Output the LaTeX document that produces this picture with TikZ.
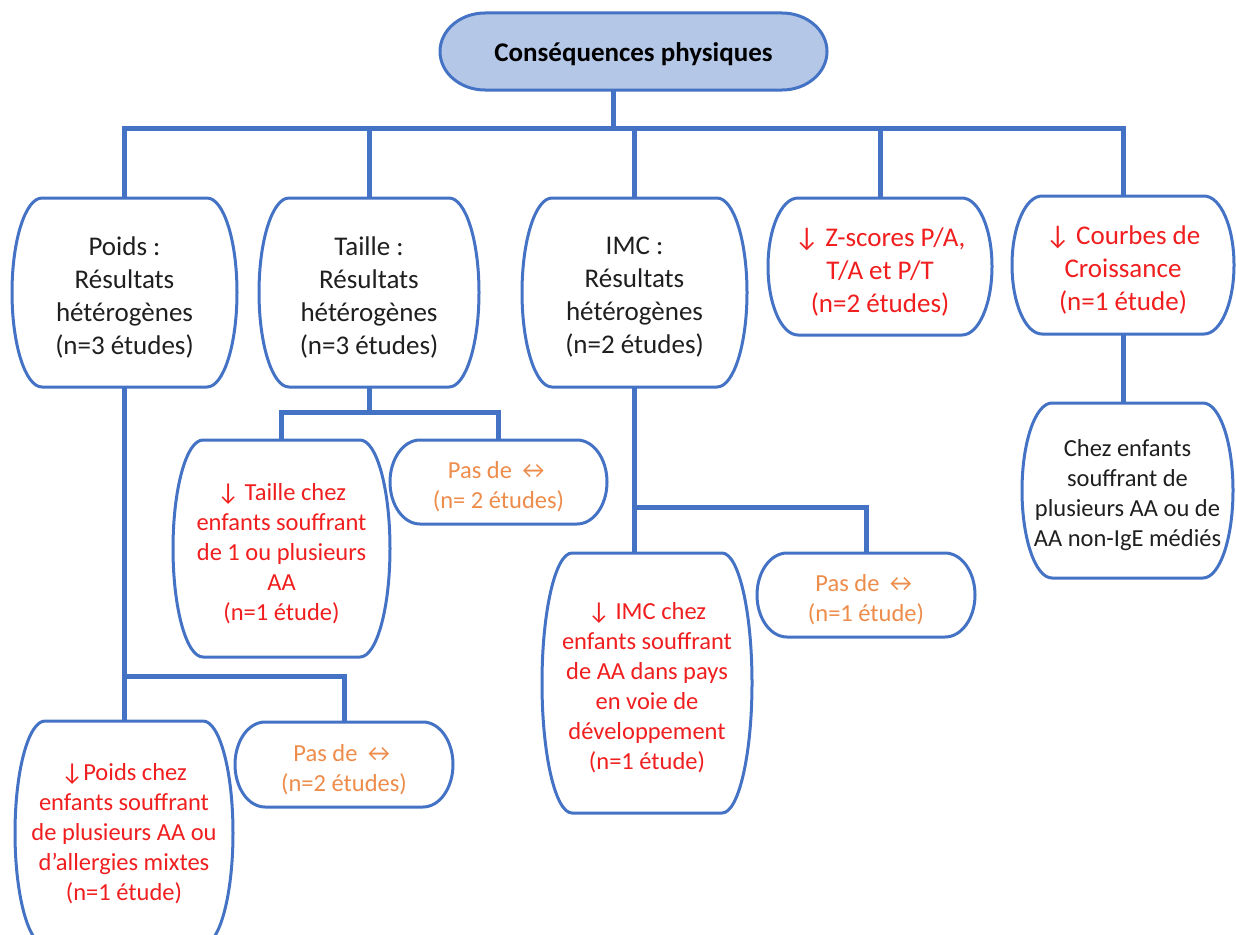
\documentclass[tikz,border=0pt]{standalone}
\usepackage{fontspec}
\setmainfont{Carlito}
\usetikzlibrary{calc}
\definecolor{lineblue}{HTML}{4472C4}
\definecolor{titlefill}{HTML}{B4C7E7}
\definecolor{txtred}{RGB}{240,30,30}
\definecolor{txtorange}{RGB}{237,140,75}
\definecolor{txtdark}{HTML}{1F1F1F}
\tikzset{
  conn/.style={draw=lineblue, line width=5pt},
  outline/.style={draw=lineblue, line width=3pt, fill=white},
  lvlone/.style={font=\fontsize{27}{33}\selectfont, align=center, text=txtdark},
  lvltwo/.style={font=\fontsize{24.5}{30}\selectfont, align=center, text=txtdark},
  redtxt/.style={text=txtred},
  orangetxt/.style={text=txtorange},
}
% barrel-shaped box: name, left, top, right, bottom, side radius, outline style, text style, text
% the named node carries the anchors; its text sits in a companion node <name>-text
\newcommand{\bbox}[9]{%
  \path[outline,#7] (#2+#6,#3) -- (#4-#6,#3)
     arc[start angle=90, end angle=-90, x radius=#6pt, y radius={((#5)-(#3))/2*1pt}]
     -- (#2+#6,#5)
     arc[start angle=270, end angle=90, x radius=#6pt, y radius={((#5)-(#3))/2*1pt}]
     -- cycle;
  \node[inner sep=0pt, minimum width={(#4)-(#2)}, minimum height={(#5)-(#3)}]
     (#1) at ({((#2)+(#4))/2},{((#3)+(#5))/2}) {};
  \node[inner sep=0pt, yshift=-5pt, #8] (#1-text) at (#1.center) {#9};
}
\begin{document}
\begin{tikzpicture}[x=1pt, y=-1pt]
\useasboundingbox (0,0) rectangle (1236,934);
\clip (0,0) rectangle (1236,934);

% root
\bbox{title}{440}{13}{827}{90}{45}{fill=titlefill}{yshift=2pt, font=\fontsize{27}{33}\selectfont\bfseries, text=black}{Conséquences physiques}

% first level
\bbox{poids}{12}{198}{237}{387}{30}{}{lvlone}{Poids :\\Résultats\\hétérogènes\\(n=3 études)}
\bbox{taille}{259}{198}{479}{387}{30}{}{lvlone}{Taille :\\Résultats\\hétérogènes\\(n=3 études)}
\bbox{imc}{522}{198}{747}{387}{30}{}{lvlone}{IMC :\\Résultats\\hétérogènes\\(n=2 études)}
\bbox{zsc}{768}{198}{992}{335}{30}{}{lvlone,redtxt}{↓ Z-scores P/A,\\T/A et P/T\\(n=2 études)}
\bbox{courbes}{1012}{196}{1234}{334}{30}{}{lvlone,redtxt}{↓ Courbes de\\Croissance\\(n=1 étude)}

% second level
\bbox{pchild}{15}{721}{233}{945}{30}{}{yshift=4pt, lvltwo,redtxt}{↓Poids chez\\enfants souffrant\\de plusieurs AA ou\\d’allergies mixtes\\(n=1 étude)}
\bbox{ppas}{235}{722}{453}{807}{30}{}{lvltwo,orangetxt}{Pas de ↔\\(n=2 études)}
\bbox{tchild}{173}{440}{390}{657}{30}{}{lvltwo,redtxt}{↓ Taille chez\\enfants souffrant\\de 1 ou plusieurs\\AA\\(n=1 étude)}
\bbox{tpas}{390}{440}{607}{524}{30}{}{lvltwo,orangetxt}{Pas de ↔\\(n= 2 études)}
\bbox{ichild}{542}{553}{752}{813}{30}{}{lvltwo,redtxt}{↓ IMC chez\\enfants souffrant\\de AA dans pays\\en voie de\\développement\\(n=1 étude)}
\bbox{ipas}{757}{553}{975}{637}{30}{}{lvltwo,orangetxt}{Pas de ↔\\(n=1 étude)}
\bbox{cchild}{1022}{403}{1233}{578}{30}{}{lvltwo}{Chez enfants\\souffrant de\\plusieurs AA ou de\\AA non-IgE médiés}

% junction points
\coordinate (bus) at (613,128);
\coordinate (pj) at (124.5,676);
\coordinate (tj) at (369,412);
\coordinate (ij) at (634.5,507);

% connectors
\draw[conn] ([xshift=-20.5pt]title.south) -- (bus);
\draw[conn] (poids.north) |- (bus) -| (courbes.north);
\draw[conn] (bus -| taille.north) -- (taille.north);
\draw[conn] (bus -| imc.north) -- (imc.north);
\draw[conn] (bus -| zsc.north) -- (zsc.north);

\draw[conn] (poids.south) -- (poids.south |- pchild.north);
\draw[conn] (pj) -| (ppas.north);

\draw[conn] (taille.south) -- (tj);
\draw[conn] (tchild.north) |- (tj) -| (tpas.north);

\draw[conn] (imc.south) -- (imc.south |- ichild.north);
\draw[conn] (ij) -| (ipas.north);

\draw[conn] (courbes.south) -- (courbes.south |- cchild.north);
\end{tikzpicture}
\end{document}
